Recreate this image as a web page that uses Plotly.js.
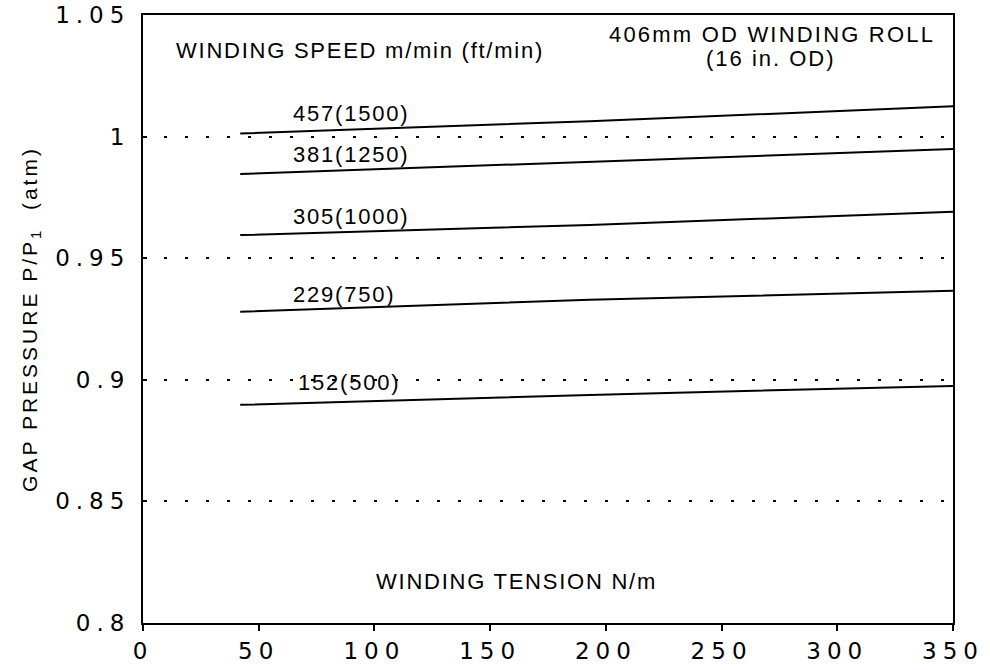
<!DOCTYPE html>
<html>
<head>
<meta charset="utf-8">
<script src="https://cdn.plot.ly/plotly-3.0.1.min.js"></script>
<style>html,body{margin:0;padding:0;background:#fff;}#chart{width:990px;height:670px;}</style>
</head>
<body>
<div id="chart"></div>
<script>
// Winding tension (N/m)
const tension = [42, 193, 350];
// Gap pressure P/P1 per winding speed
const speed457 = [1.0013, 1.0063, 1.0125];
const speed381 = [0.9846, 0.9897, 0.9949];
const speed305 = [0.9595, 0.9637, 0.9691];
const speed229 = [0.9280, 0.9329, 0.9366];
const speed152 = [0.8897, 0.8938, 0.8975];
const seriesNames = ['457(1500)', '381(1250)', '305(1000)', '229(750)', '152(500)'];
const seriesValues = [speed457, speed381, speed305, speed229, speed152];
// label anchor positions (data coords) for series names
const labelX = [90, 90, 90, 87, 89];
const labelY = [1.0097, 0.9927, 0.9671, 0.9349, 0.8990];

const xTickVals = [0, 50, 100, 150, 200, 250, 300, 350];
const xTickText = ['0', '50', '100', '150', '200', '250', '300', '350'];
const yTickVals = [0.8, 0.85, 0.9, 0.95, 1, 1.05];
const yTickText = ['0.8', '0.85', '0.9', '0.95', '1', '1.05'];

const sp = (t, s) => '<span style="letter-spacing:' + s + 'px">' + t + '</span>';

const traces = seriesValues.map((v, i) => ({
  x: tension, y: v, type: 'scatter', mode: 'lines',
  name: seriesNames[i], line: {color: '#000', width: 2}, showlegend: false
}));

const txtFont = {family: 'Liberation Sans, Arial, sans-serif', size: 22, color: '#000'};
const annotations = seriesNames.map((n, i) => ({
  x: labelX[i], y: labelY[i], xref: 'x', yref: 'y', text: sp(n, 1.8),
  showarrow: false, xanchor: 'center', yanchor: 'middle', font: txtFont
}));
annotations.push(
  {x: 343, y: 1.0421, xref: 'x', yref: 'y', text: sp('406mm OD WINDING ROLL', 2.2), showarrow: false, xanchor: 'right', yanchor: 'middle', font: txtFont},
  {x: 242.4, y: 1.0322, xref: 'x', yref: 'y', text: sp('(16 in. OD)', 2), showarrow: false, xanchor: 'left', yanchor: 'middle', font: txtFont},
  {x: 13.4, y: 1.0355, xref: 'x', yref: 'y', text: sp('WINDING SPEED m/min (ft/min)', 1.75), showarrow: false, xanchor: 'left', yanchor: 'middle', font: txtFont},
  {x: 161.4, y: 0.8171, xref: 'x', yref: 'y', text: sp('WINDING TENSION N/m', 1.75), showarrow: false, xanchor: 'center', yanchor: 'middle', font: txtFont}
);

const tickFont = {family: 'DejaVu Sans, sans-serif', size: 23, color: '#000'};

const layout = {
  width: 990, height: 670,
  margin: {l: 143, r: 37, t: 15, b: 47},
  paper_bgcolor: '#fff', plot_bgcolor: '#fff',
  showlegend: false,
  xaxis: {
    range: [0, 350], tickvals: xTickVals, ticktext: xTickText.map(t => sp(t, 6)),
    ticks: 'outside', ticklen: 6, tickwidth: 2, tickcolor: '#000',
    showline: true, linecolor: '#000', linewidth: 2, mirror: true,
    showgrid: false, zeroline: false, tickfont: tickFont
  },
  yaxis: {
    range: [0.8, 1.05], tickvals: yTickVals, ticktext: yTickText.map(t => sp(t, 6)),
    ticks: 'inside', ticklen: 4, tickwidth: 2, tickcolor: '#000',
    showline: true, linecolor: '#000', linewidth: 2, mirror: true,
    showgrid: true, gridcolor: '#000', gridwidth: 2, griddash: '3px,18px',
    zeroline: false, tickfont: tickFont, ticklabelstandoff: 6,
    title: {text: sp('GAP PRESSURE P/P<sub>1</sub>  (atm)', 3), font: {family: 'Liberation Sans, Arial, sans-serif', size: 21, color: '#000'}, standoff: 12}
  },
  annotations: annotations
};

Plotly.newPlot('chart', traces, layout, {displayModeBar: false, staticPlot: true});
</script>
</body>
</html>
